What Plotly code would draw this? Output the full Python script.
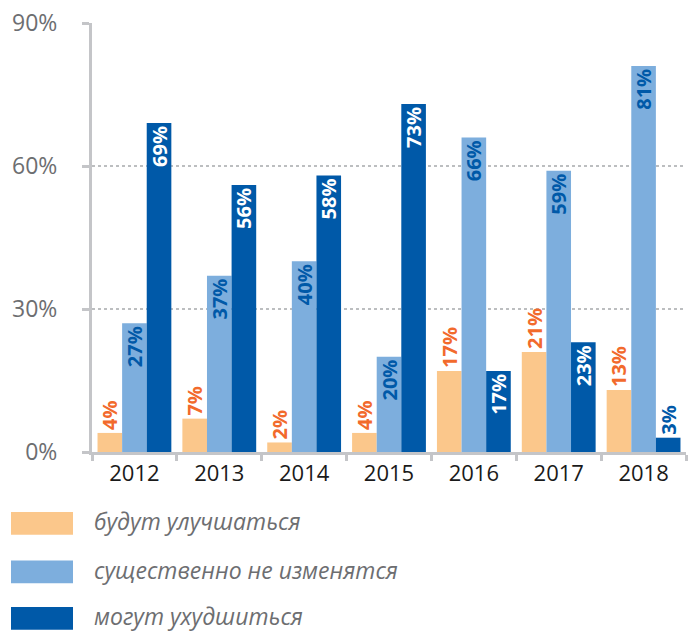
import plotly.graph_objects as go

years = ["2012", "2013", "2014", "2015", "2016", "2017", "2018"]
series_names = ["будут улучшаться", "существенно не изменятся", "могут ухудшиться"]
improve = [4, 7, 2, 4, 17, 21, 13]
no_change = [27, 37, 40, 20, 66, 59, 81]
worsen = [69, 56, 58, 73, 17, 23, 3]
y_ticks = [0, 30, 60, 90]

ORANGE = "#FBC78B"
LIGHT = "#7DAEDD"
DARK = "#0059A8"
LABEL_ORANGE = "#F26A2C"

W, H = 692, 633
L, R, T, B = 92, 6, 19, 181
pw, ph = W - L - R, H - T - B


def px(x):
    return (x - L) / pw


def py(y):
    return (H - B - y) / ph


LABEL_FAMILY = "Open Sans"
LABEL_SIZE = 20

fig = go.Figure()

fig.add_trace(go.Bar(
    x=years, y=improve, name=series_names[0],
    marker=dict(color=ORANGE, line=dict(width=0)),
    text=[f"{v}%" for v in improve], textposition="outside",
    textangle=-90, constraintext="none", cliponaxis=False,
    textfont=dict(family=LABEL_FAMILY, size=LABEL_SIZE, color=LABEL_ORANGE),
    outsidetextfont=dict(family=LABEL_FAMILY, size=LABEL_SIZE, color=LABEL_ORANGE),
    texttemplate="<b>%{text}</b>",
))

fig.add_trace(go.Bar(
    x=years, y=no_change, name=series_names[1],
    marker=dict(color=LIGHT, line=dict(width=0)),
    text=[f"{v}%" for v in no_change], textposition="inside",
    insidetextanchor="end", textangle=-90, constraintext="none",
    textfont=dict(family=LABEL_FAMILY, size=LABEL_SIZE, color=DARK),
    insidetextfont=dict(family=LABEL_FAMILY, size=LABEL_SIZE, color=DARK),
    texttemplate="<b>%{text}</b>",
))

fig.add_trace(go.Bar(
    x=years, y=worsen, name=series_names[2],
    marker=dict(color=DARK, line=dict(width=0)),
    text=[f"{v}%" for v in worsen],
    textposition=["inside" if v > 8 else "outside" for v in worsen],
    insidetextanchor="end", textangle=-90, constraintext="none",
    cliponaxis=False,
    textfont=dict(family=LABEL_FAMILY, size=LABEL_SIZE, color="white"),
    insidetextfont=dict(family=LABEL_FAMILY, size=LABEL_SIZE, color="white"),
    outsidetextfont=dict(family=LABEL_FAMILY, size=LABEL_SIZE, color=DARK),
    texttemplate="<b>%{text}</b>",
))

# legend drawn by hand so the swatches can be wide rectangles
legend_colors = [ORANGE, LIGHT, DARK]
legend_rows = [524, 573, 620]
shapes = []
annotations = []
for name, color, yc in zip(series_names, legend_colors, legend_rows):
    shapes.append(dict(
        type="rect", xref="paper", yref="paper",
        x0=px(11), x1=px(73), y0=py(yc - 11.5), y1=py(yc + 11.5),
        fillcolor=color, line=dict(width=0),
    ))
    annotations.append(dict(
        xref="paper", yref="paper", x=px(92), y=py(yc - 2),
        xanchor="left", yanchor="middle", showarrow=False,
        text=f"<i>{name}</i>",
        font=dict(family="Open Sans", size=23, color="#6d6e71"),
    ))

fig.update_layout(
    width=W, height=H,
    margin=dict(l=L, r=R, t=T, b=B),
    paper_bgcolor="white", plot_bgcolor="white",
    barmode="group", bargap=0.13, bargroupgap=0,
    showlegend=False,
    font=dict(family="Open Sans"),
    shapes=shapes, annotations=annotations,
)

fig.update_yaxes(
    range=[0, 90], tickvals=y_ticks, ticktext=[f"{v}%" for v in y_ticks],
    showgrid=True, gridcolor="#bcbec0", griddash="dot", gridwidth=1.5,
    zeroline=False, showline=True, linecolor="#c4c5c8", linewidth=3,
    ticks="outside", ticklen=7, tickwidth=3, tickcolor="#c4c5c8",
    tickfont=dict(family="Open Sans", size=23, color="#6d6e71"),
    ticklabelstandoff=20,
)

fig.update_xaxes(
    showline=True, linecolor="#c4c5c8", linewidth=3,
    ticks="outside", tickson="boundaries", ticklen=6, tickwidth=3,
    tickcolor="#c4c5c8",
    tickfont=dict(family="Open Sans", size=22, color="#1a1a1a"),
    showgrid=False,
)

fig.write_html("out.html", config={"displayModeBar": False},
               post_script="document.body.style.margin='0';")
